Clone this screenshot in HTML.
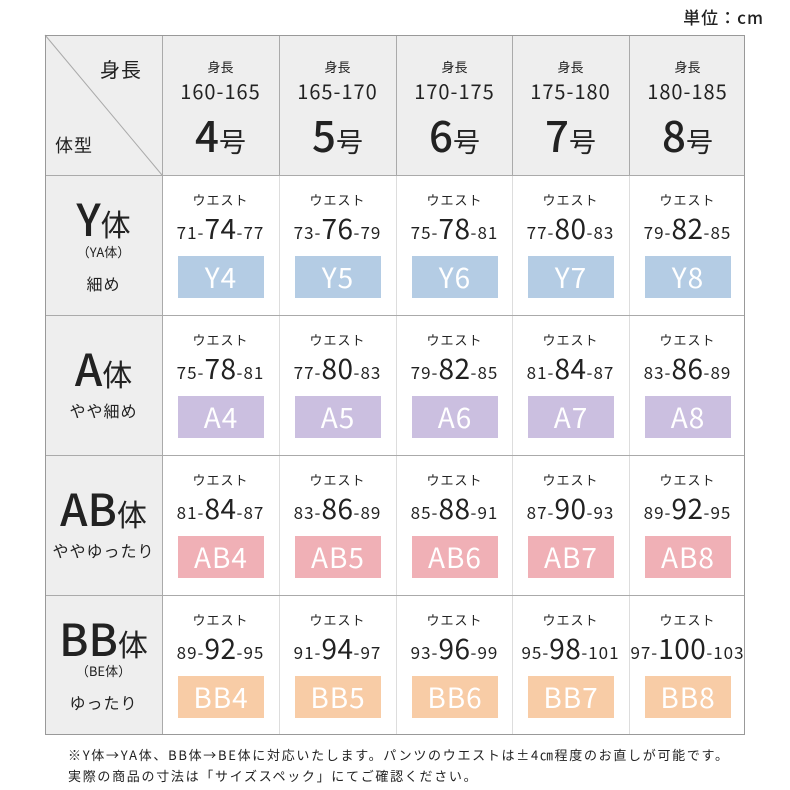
<!DOCTYPE html><html><head><meta charset="utf-8"><style>
body{margin:0;width:790px;height:790px;background:#fff;font-family:"Noto Sans CJK JP","Liberation Sans",sans-serif;color:#222;position:relative;overflow:hidden}
.a{position:absolute;white-space:nowrap;text-align:center}
.c{position:absolute;text-align:center;white-space:nowrap}
.b{position:absolute;color:#fff;font-size:28px;line-height:42px;text-align:center;letter-spacing:1px}
</style></head><body>
<div class="a" style="right:26px;top:4px;font-size:17px;font-weight:500;line-height:26px;letter-spacing:1px">単位：cm</div>
<svg width="790" height="790" style="position:absolute;left:0;top:0">
<rect x="45" y="35" width="700" height="140" fill="#eeeeee"/>
<rect x="45" y="175" width="117" height="560" fill="#eeeeee"/>
<line x1="45" y1="35" x2="162" y2="175" stroke="#aaa" stroke-width="1"/>
<g stroke="#ddd" stroke-width="1">
<line x1="279.5" y1="175" x2="279.5" y2="735"/><line x1="396.5" y1="175" x2="396.5" y2="735"/><line x1="512.5" y1="175" x2="512.5" y2="735"/><line x1="629.5" y1="175" x2="629.5" y2="735"/>
</g>
<g stroke="#aaa" stroke-width="1">
<line x1="279.5" y1="35" x2="279.5" y2="175"/><line x1="396.5" y1="35" x2="396.5" y2="175"/><line x1="512.5" y1="35" x2="512.5" y2="175"/><line x1="629.5" y1="35" x2="629.5" y2="175"/>
<line x1="162.5" y1="35" x2="162.5" y2="735"/>
<line x1="45" y1="175.5" x2="745" y2="175.5"/><line x1="45" y1="315.5" x2="745" y2="315.5"/><line x1="45" y1="455.5" x2="745" y2="455.5"/><line x1="45" y1="595.5" x2="745" y2="595.5"/>
<rect x="45.5" y="35.5" width="699" height="699" fill="none" stroke="#999"/>
</g>
</svg>
<div class="a" style="left:100px;top:54px;font-size:20px;line-height:30px;letter-spacing:1px">身長</div>
<div class="a" style="left:55px;top:131px;font-size:18px;line-height:28px;letter-spacing:1px">体型</div>
<div id="g"></div>
<div class="a" style="left:68px;top:745px;font-size:13px;line-height:20px;text-align:left;letter-spacing:1.7px">※Y体→YA体、BB体→BE体に対応いたします。パンツのウエストは±4㎝程度のお直しが可能です。</div>
<div class="a" style="left:68px;top:766px;font-size:13px;line-height:20px;text-align:left;letter-spacing:1.7px">実際の商品の寸法は「サイズスペック」にてご確認ください。</div>
<script>
var xs=[162,279,396,512,629],h='';
var hs=['160-165','165-170','170-175','175-180','180-185'];
for(var i=0;i<5;i++){var x=xs[i];
h+='<div class="c" style="left:'+x+'px;width:117px;top:57px;font-size:13px;line-height:20px">身長</div>';
h+='<div class="c" style="left:'+x+'px;width:117px;top:77px;font-size:20px;line-height:28px;letter-spacing:1px">'+hs[i]+'</div>';
h+='<div class="c" style="left:'+x+'px;width:117px;top:110px;font-size:42px;line-height:50px;font-weight:500"><span>'+(i+4)+'</span><span style="font-size:27px;font-weight:400">号</span></div>';}
var rows=[{p:'Y',c:'#b4cce4',s:71},{p:'A',c:'#cbbfe0',s:75},{p:'AB',c:'#f0b0b6',s:81},{p:'BB',c:'#f8cca6',s:89}];
for(var r=0;r<4;r++){var y=175+r*140,R=rows[r];
for(var i=0;i<5;i++){var x=xs[i],a=R.s+i*2;
h+='<div class="c" style="left:'+x+'px;width:117px;top:'+(y+15)+'px;font-size:13px;line-height:20px;letter-spacing:1px">ウエスト</div>';
h+='<div class="c" style="left:'+x+'px;width:117px;top:'+(y+35)+'px;font-size:17px;line-height:36px;letter-spacing:1px">'+a+'-<span style="font-size:28px;letter-spacing:0.5px">'+(a+3)+'</span>-'+(a+6)+'</div>';
h+='<div class="b" style="left:'+(x+16)+'px;width:86px;top:'+(y+81)+'px;background:'+R.c+'">'+R.p+(i+4)+'</div>';}}
h+='<div class="c" style="left:45px;width:117px;top:192px;font-size:44px;line-height:50px;font-weight:500">Y<span style="font-size:30px;font-weight:400">体</span></div>';
h+='<div class="c" style="left:45px;width:117px;top:242px;font-size:13px;line-height:20px">（YA体）</div>';
h+='<div class="c" style="left:45px;width:117px;top:271px;font-size:16px;line-height:24px;letter-spacing:1px">細め</div>';
h+='<div class="c" style="left:45px;width:117px;top:342px;font-size:44px;line-height:50px;font-weight:500">A<span style="font-size:30px;font-weight:400">体</span></div>';
h+='<div class="c" style="left:45px;width:117px;top:398px;font-size:16px;line-height:24px;letter-spacing:1px">やや細め</div>';
h+='<div class="c" style="left:45px;width:117px;top:482px;font-size:44px;line-height:50px;font-weight:500">AB<span style="font-size:30px;font-weight:400">体</span></div>';
h+='<div class="c" style="left:45px;width:117px;top:538px;font-size:16px;line-height:24px;letter-spacing:1px">ややゆったり</div>';
h+='<div class="c" style="left:45px;width:117px;top:612px;font-size:44px;line-height:50px;font-weight:500">BB<span style="font-size:30px;font-weight:400">体</span></div>';
h+='<div class="c" style="left:45px;width:117px;top:661px;font-size:13px;line-height:20px">（BE体）</div>';
h+='<div class="c" style="left:45px;width:117px;top:690px;font-size:16px;line-height:24px;letter-spacing:1px">ゆったり</div>';
document.getElementById('g').innerHTML=h;
</script>
</body></html>
